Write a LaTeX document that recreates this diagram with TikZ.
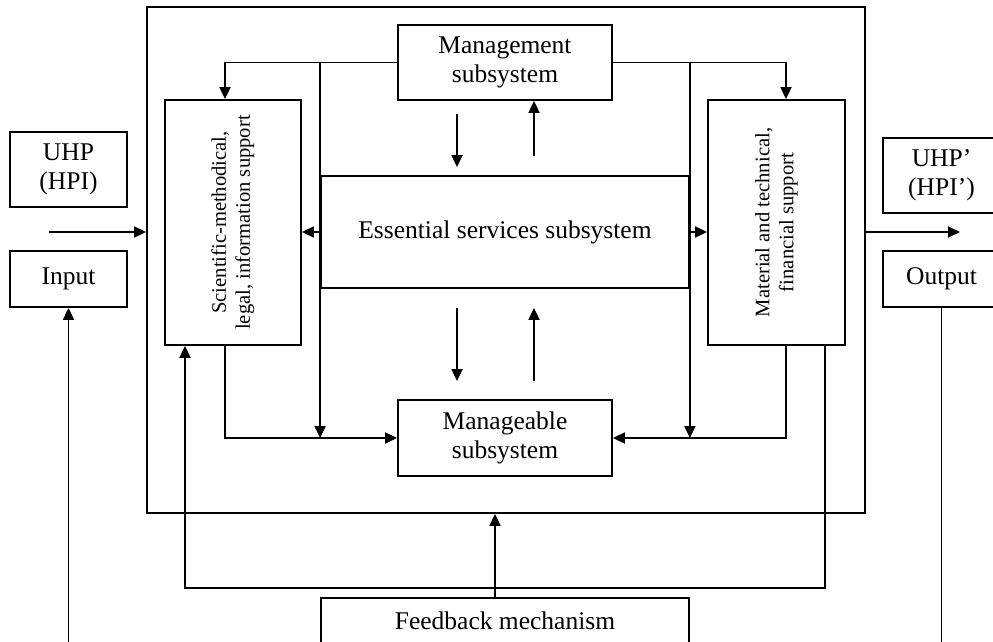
\documentclass[tikz,border=0pt]{standalone}
\usepackage{fontspec}
\setmainfont{Liberation Serif}
\usetikzlibrary{arrows.meta}
\begin{document}
\begin{tikzpicture}[x=1pt,y=-1pt,
  box/.style={draw, line width=1.8pt, font=\fontsize{25.5}{29}\selectfont, align=center, inner sep=0pt},
  vbox/.style={draw, line width=1.8pt, inner sep=0pt},
  conn/.style={line width=1.8pt},
  arr/.style={line width=1.8pt, -{Triangle[length=12pt,width=11pt]}}]
\useasboundingbox (0,0) rectangle (993,642);
\clip (0,0) rectangle (993,642);
% nodes
\node[box, minimum width=718pt, minimum height=506pt] (outer) at (506,260) {};
\node[box, minimum width=214pt, minimum height=75pt] (mgmt) at (505,62.5) {Management\\subsystem};
\node[box, minimum width=368pt, minimum height=112pt] (ess) at (505,232) {Essential services subsystem};
\node[box, minimum width=214pt, minimum height=76pt] (manage) at (505,438) {Manageable\\subsystem};
\node[vbox, minimum width=136pt, minimum height=245pt] (sci) at (233,222.5)
  {\rotatebox{90}{\fontsize{20.6}{24}\selectfont\begin{tabular}{@{}c@{}}Scientific-methodical,\\legal, information support\end{tabular}}};
\node[vbox, minimum width=137pt, minimum height=245pt] (mat) at (776.5,222.5)
  {\rotatebox{90}{\fontsize{20.6}{24}\selectfont\begin{tabular}{@{}c@{}}Material and technical,\\financial support\end{tabular}}};
\node[box, minimum width=117pt, minimum height=75pt] (uhp) at (68.5,169.5) {UHP\\(HPI)};
\node[box, minimum width=117pt, minimum height=56pt] (input) at (68.5,279) {Input};
\node[box, minimum width=117pt, minimum height=75pt] (uhp2) at (941.5,175.5) {UHP’\\(HPI’)};
\node[box, minimum width=117pt, minimum height=56pt] (output) at (941.5,279) {Output};
\node[box, minimum width=368pt, minimum height=46pt] (fb) at (505,621) {Feedback mechanism};
\coordinate (in1) at (49,232);
\coordinate (out1) at (960,232);
\coordinate (fbline) at (505,588);
\coordinate (bl) at (68,660);
% connectors
\draw[arr] (mgmt.west) -| ([xshift=-8pt]sci.north);
\draw[arr] (mgmt.east) -| ([xshift=9.5pt]mat.north);
\draw[arr] (ess.west |- mgmt.west) -- (ess.west |- manage.west);
\draw[arr] (ess.east |- mgmt.east) -- (ess.east |- manage.east);
\draw[arr] ([xshift=-8pt]sci.south) |- (manage.west);
\draw[arr] ([xshift=9.5pt]mat.south) |- (manage.east);
\draw[arr] (ess.west) -- (sci.east |- ess.west);
\draw[arr] (ess.east) -- (mat.west |- ess.east);
\draw[arr] (in1) -- (outer.west |- in1);
\draw[arr] (outer.east |- out1) -- (out1);
\draw[arr] ([xshift=-48pt,yshift=-13pt]mgmt.south) -- ([xshift=-48pt,yshift=8pt]ess.north);
\draw[arr] ([xshift=29pt,yshift=19pt]ess.north) -- ([xshift=29pt]mgmt.south);
\draw[arr] ([xshift=-48pt,yshift=-19pt]ess.south) -- ([xshift=-48pt,yshift=18pt]manage.north);
\draw[arr] ([xshift=29pt,yshift=18pt]manage.north) -- ([xshift=29pt,yshift=-19pt]ess.south);
\draw[arr] ([xshift=48.5pt]mat.south) |- (fbline) -| ([xshift=-48pt]sci.south);
\draw[arr] ([xshift=-10pt]fb.north) -- ([xshift=-10pt]fb.north |- outer.south);
\draw[arr] (input.south |- bl) -- (input.south);
\draw[conn] (output.south) -- (output.south |- bl);
\end{tikzpicture}
\end{document}
